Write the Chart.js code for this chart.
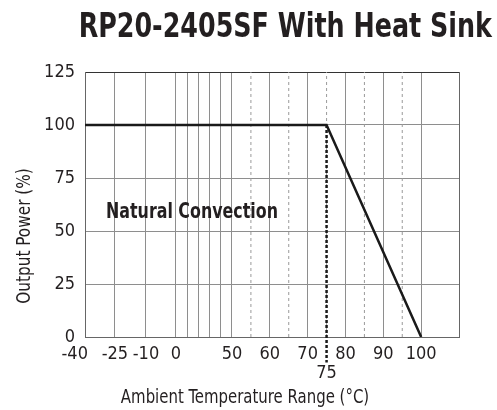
<!DOCTYPE html>
<html>
<head>
<meta charset="utf-8">
<title>RP20-2405SF With Heat Sink</title>
<script src="https://cdn.jsdelivr.net/npm/chart.js@4.4.1/dist/chart.umd.min.js"></script>
<style>
  body { margin: 0; background: #fff; }
  canvas { display: block; }
</style>
</head>
<body>
<canvas id="derating" width="497" height="410"></canvas>
<script>
// Derating curve
const tempX = [-40, 75, 100];
const powerY = [100, 100, 0];

// Marker line at 75 degrees (drops below the axis, above the "75" label)
const markX = [75, 75];
const markY = [100, -12];

// Axis ticks
const tempTicks = [-40, -25, -10, 0, 10, 20, 30, 40, 50, 55, 60, 65, 70, 75, 80, 85, 90, 95, 100, 110];
const labelledTemps = [-40, -25, -10, 0, 50, 60, 70, 80, 90, 100];
const lowerLabelTemps = [75];
const dashedTemps = [55, 65, 75, 85, 95];
const powerTicks = [0, 25, 50, 75, 100, 125];

// x axis is not linear: each stretch gets its own share of the width
const axisStops = [-40, -25, -10, 0, 50, 110];
const axisShares = [0, 0.08, 0.163, 0.243, 0.393, 1];

const FONT = "'Liberation Sans Narrow', 'DejaVu Sans Condensed', 'Roboto', sans-serif";
const GRID = '#8e8e8e';
const INK = '#231f20';

function toShare(v){
  let i = 0;
  while(i < axisStops.length - 2 && v > axisStops[i + 1]) i++;
  let a = axisStops[i], b = axisStops[i + 1];
  return axisShares[i] + (v - a) / (b - a) * (axisShares[i + 1] - axisShares[i]);
}

function fromShare(s){
  let i = 0;
  while(i < axisShares.length - 2 && s > axisShares[i + 1]) i++;
  let a = axisShares[i], b = axisShares[i + 1];
  return axisStops[i] + (s - a) / (b - a) * (axisStops[i + 1] - axisStops[i]);
}

// Piecewise linear scale
class BrokenScale extends Chart.LinearScale {
  buildTicks(){
    return tempTicks.map(v => ({ value: v }));
  }
  getPixelForValue(value){
    if(value === null || isNaN(value)) return NaN;
    return this.getPixelForDecimal(toShare(+value));
  }
  getValueForPixel(pixel){
    return fromShare(this.getDecimalForPixel(pixel));
  }
}
BrokenScale.id = 'broken';
BrokenScale.defaults = Chart.LinearScale.defaults;
Chart.register(BrokenScale);

// Draw text squeezed sideways (the original uses a condensed face)
function narrowText(ctx, text, x, y, font, align, squeeze, angle){
  ctx.save();
  ctx.font = font;
  ctx.textAlign = align;
  ctx.textBaseline = 'alphabetic';
  ctx.translate(x, y);
  if(angle) ctx.rotate(angle);
  ctx.scale(squeeze, 1);
  ctx.fillText(text, 0, 0);
  ctx.restore();
}

// Title, axis titles and the note inside the plot
const textPlugin = {
  id: 'texts',
  afterDraw(chart){
    const ctx = chart.ctx;
    ctx.save();
    ctx.fillStyle = INK;
    narrowText(ctx, 'RP20-2405SF With Heat Sink', 492, 37, "bold 33px " + FONT, 'right', 0.855);
    narrowText(ctx, 'Ambient Temperature Range (°C)', 245, 403, "20px " + FONT, 'center', 0.83);
    narrowText(ctx, 'Output Power (%)', 30, 236, "20px " + FONT, 'center', 0.85, -Math.PI / 2);
    narrowText(ctx, 'Natural Convection', 106, 218, "bold 21px " + FONT, 'left', 0.84);
    ctx.restore();
  }
};

const datasets = [{
  data: tempX.map((x, i) => ({ x: x, y: powerY[i] })),
  borderColor: '#1a1a1a',
  borderWidth: 2.5,
  pointRadius: 0,
  order: 0
}, {
  data: markX.map((x, i) => ({ x: x, y: markY[i] })),
  borderColor: '#1a1a1a',
  borderWidth: 2.5,
  borderDash: [3, 2],
  pointRadius: 0,
  clip: false,
  order: 1
}];

dashedTemps.forEach(t => {
  datasets.push({
    data: [{ x: t, y: powerTicks[0] }, { x: t, y: powerTicks[powerTicks.length - 1] }],
    borderColor: '#9a9a9a',
    borderWidth: 1,
    borderDash: [3, 3],
    pointRadius: 0,
    order: 2
  });
});

new Chart(document.getElementById('derating'), {
  type: 'line',
  data: { datasets: datasets },
  options: {
    responsive: false,
    animation: false,
    layout: { padding: { top: 72, left: 0, right: 38, bottom: 0 } },
    plugins: {
      legend: { display: false },
      tooltip: { enabled: false },
      title: { display: false }
    },
    scales: {
      x: {
        type: 'broken',
        min: -40,
        max: 110,
        afterFit: scale => { scale.height = 73; },
        border: { color: '#666', width: 1 },
        grid: {
          drawTicks: false,
          lineWidth: 1,
          color: c => {
            let v = c.tick && c.tick.value;
            if(dashedTemps.includes(v)) return 'rgba(0,0,0,0)';
            if(v === 110) return '#666';
            return GRID;
          }
        },
        ticks: {
          autoSkip: false,
          maxRotation: 0,
          minRotation: 0,
          padding: 8,
          color: INK,
          font: { family: FONT, size: 18, lineHeight: 1.05 },
          callback: v => {
            if(v === -40) return '-40    ';
            if(labelledTemps.includes(v)) return String(v);
            if(lowerLabelTemps.includes(v)) return ['', String(v)];
            return '';
          }
        }
      },
      y: {
        min: powerTicks[0],
        max: powerTicks[powerTicks.length - 1],
        afterFit: scale => { scale.width = 85; },
        afterBuildTicks: scale => { scale.ticks = powerTicks.map(v => ({ value: v })); },
        border: { color: '#666', width: 1 },
        grid: {
          drawTicks: false,
          lineWidth: 1,
          color: c => (c.tick && c.tick.value === 125) ? '#333' : GRID
        },
        ticks: {
          padding: 10,
          color: INK,
          font: { family: FONT, size: 18 }
        }
      }
    }
  },
  plugins: [textPlugin]
});
</script>
</body>
</html>
